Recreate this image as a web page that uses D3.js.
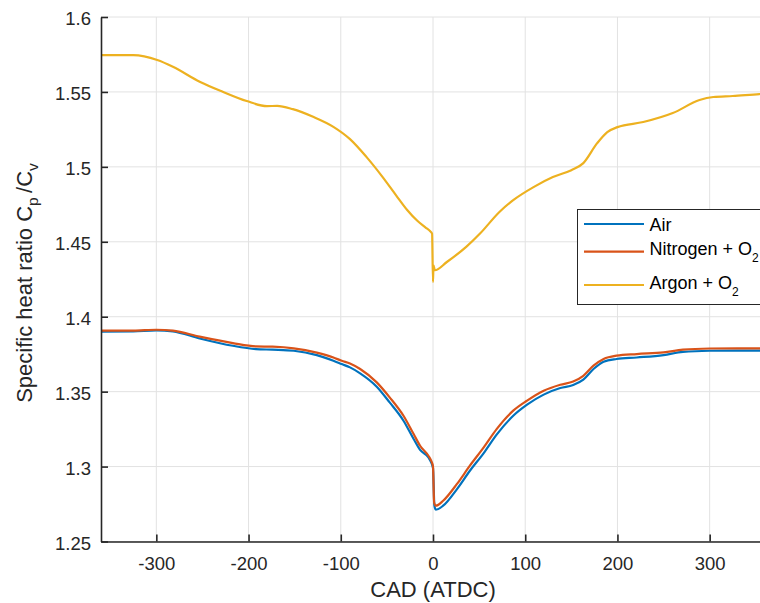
<!DOCTYPE html>
<html><head><meta charset="utf-8">
<script src="https://cdn.jsdelivr.net/npm/d3@7"></script>
<style>
html,body{margin:0;padding:0;background:#fff;}
svg{display:block;overflow:hidden;font-family:"Liberation Sans",Arial,Helvetica,sans-serif;}
</style></head>
<body>
<svg id="chart" width="760" height="603"></svg>
<script>
// ---- data ----
const seriesNames = ["Air", "Nitrogen + O2", "Argon + O2"];
const seriesColors = ["#0072BD", "#D95319", "#EDB120"];

const airCad = [-360,-325,-300,-282,-253,-217,-192,-174,-151,-126,-108,-99,-90,-79,-61,-47,-32,-21,-14,-5,-2,0,1.5,3,11,26,40,55,69,87,102,120,138,152,163,174,185,199,221,250,271,300,330,360];
const airVal = [1.3900,1.3902,1.3909,1.3902,1.3855,1.3806,1.3784,1.3780,1.3773,1.3744,1.3706,1.3684,1.3662,1.3622,1.3533,1.3428,1.3306,1.3184,1.3111,1.3061,1.3028,1.2990,1.2740,1.2712,1.2739,1.2850,1.2972,1.3090,1.3213,1.3339,1.3413,1.3480,1.3524,1.3544,1.3580,1.3651,1.3700,1.3718,1.3728,1.3744,1.3766,1.3773,1.3774,1.3773];

const nitCad = [-360,-325,-300,-282,-253,-217,-192,-174,-151,-126,-108,-99,-90,-79,-61,-47,-32,-21,-14,-5,-2,0,1.2,3,11,26,40,55,69,87,102,120,138,152,163,174,185,199,221,250,271,300,330,360];
const nitVal = [1.3907,1.3907,1.3913,1.3907,1.3867,1.3824,1.3802,1.3800,1.3789,1.3760,1.3728,1.3706,1.3688,1.3651,1.3562,1.3462,1.3339,1.3217,1.3139,1.3072,1.3039,1.3000,1.2760,1.2739,1.2772,1.2884,1.3006,1.3128,1.3250,1.3373,1.3440,1.3506,1.3546,1.3568,1.3606,1.3673,1.3718,1.3740,1.3751,1.3762,1.3780,1.3788,1.3789,1.3788];

const argCad = [-360,-325,-299,-282,-253,-228,-202,-180,-169,-152,-130,-108,-90,-72,-55,-40,-28,-17,-8,-3,-1,0,0.5,2,15,36,51,72,87,109,130,150,163,178,189,200,228,260,289,304,325,354,360];
const argVal = [1.5745,1.5745,1.5713,1.5668,1.5568,1.5501,1.5439,1.5405,1.5407,1.5385,1.5334,1.5267,1.5185,1.5065,1.4935,1.4810,1.4712,1.4640,1.4595,1.4570,1.4555,1.4232,1.4343,1.4310,1.4365,1.4466,1.4555,1.4699,1.4778,1.4865,1.4932,1.4978,1.5025,1.5158,1.5232,1.5265,1.5299,1.5359,1.5446,1.5466,1.5473,1.5486,1.5488];

const xTicks = [-300,-200,-100,0,100,200,300];
const xTickLabels = ["-300","-200","-100","0","100","200","300"];
const yTicks = [1.25,1.3,1.35,1.4,1.45,1.5,1.55,1.6];
const yTickLabels = ["1.25","1.3","1.35","1.4","1.45","1.5","1.55","1.6"];
const xLabel = "CAD (ATDC)";

// ---- layout ----
const L = 101, R = 765, T = 17, B = 541.5;
const svg = d3.select("#chart");
const x = d3.scaleLinear().domain([-360, 360]).range([L, R]);
const y = d3.scaleLinear().domain([1.25, 1.6]).range([B, T]);
const axisColor = "#262626";

// grid
const grid = svg.append("g");
grid.selectAll("line.vx").data(xTicks).join("line")
  .attr("x1", d => x(d)).attr("x2", d => x(d)).attr("y1", T).attr("y2", B)
  .attr("stroke", "#e2e2e2").attr("stroke-width", 1);
grid.selectAll("line.hy").data(yTicks).join("line")
  .attr("x1", L).attr("x2", R).attr("y1", d => y(d)).attr("y2", d => y(d))
  .attr("stroke", "#e2e2e2").attr("stroke-width", 1);

// series lines
const series = [
  {cad: airCad, val: airVal},
  {cad: nitCad, val: nitVal},
  {cad: argCad, val: argVal}
];
const line = d3.line().x(d => x(d[0])).y(d => y(d[1])).curve(d3.curveMonotoneX);
series.forEach((s, i) => {
  svg.append("path")
    .datum(s.cad.map((c, j) => [c, s.val[j]]))
    .attr("fill", "none").attr("stroke", seriesColors[i])
    .attr("stroke-width", 2.2).attr("stroke-linejoin", "round")
    .attr("d", line);
});

// axes
const xAxis = d3.axisBottom(x).tickValues(xTicks).tickFormat((d, i) => xTickLabels[i]).tickSizeInner(-7).tickSizeOuter(0);
const yAxis = d3.axisLeft(y).tickValues(yTicks).tickFormat((d, i) => yTickLabels[i]).tickSizeInner(-7).tickSizeOuter(0);
const gx = svg.append("g").attr("transform", `translate(0,${B})`).call(xAxis);
const gy = svg.append("g").attr("transform", `translate(${L},0)`).call(yAxis);
[gx, gy].forEach(g => {
  g.select(".domain").attr("stroke", axisColor).attr("stroke-width", 1.6);
  g.selectAll(".tick line").attr("stroke", axisColor).attr("stroke-width", 1.6);
  g.selectAll(".tick text").attr("fill", axisColor)
    .style("font-family", '"Liberation Sans",Arial,sans-serif').style("font-size", "18.5px");
});
gx.selectAll(".tick text").attr("y", 15).attr("dy", "0.71em");
gy.selectAll(".tick text").attr("x", -10).attr("dy", "0.42em");

// axis labels
svg.append("text").attr("x", (L + 765) / 2).attr("y", 597).attr("text-anchor", "middle")
  .attr("fill", axisColor).style("font-size", "22px").text(xLabel);

const yl = svg.append("text").attr("transform", "translate(32,283) rotate(-90)")
  .attr("text-anchor", "middle").attr("fill", axisColor).style("font-size", "22px");
yl.append("tspan").text("Specific heat ratio C");
yl.append("tspan").attr("dy", 6).style("font-size", "15.5px").text("p");
yl.append("tspan").attr("dy", -6).text("\u2009/C");
yl.append("tspan").attr("dy", 6).style("font-size", "15.5px").text("v");

// legend
const lg = svg.append("g");
lg.append("rect").attr("x", 577.5).attr("y", 209.5).attr("width", 200).attr("height", 95)
  .attr("fill", "#fff").attr("stroke", axisColor).attr("stroke-width", 1);
const rowsY = [224, 251.7, 285];
const legendMain = ["Air", "Nitrogen + O", "Argon + O"];
const legendSub = ["", "2", "2"];
seriesNames.forEach((n, i) => {
  lg.append("line").attr("x1", 584).attr("x2", 644).attr("y1", rowsY[i]).attr("y2", rowsY[i])
    .attr("stroke", seriesColors[i]).attr("stroke-width", 2.2);
  const t = lg.append("text").attr("x", 649.5).attr("y", rowsY[i] + (i === 0 ? 6.5 : 3.5))
    .attr("fill", "#000").style("font-size", "18px");
  t.append("tspan").text(legendMain[i]);
  if (legendSub[i]) t.append("tspan").attr("dy", 7).style("font-size", "12px").text(legendSub[i]);
});
</script>
</body></html>
